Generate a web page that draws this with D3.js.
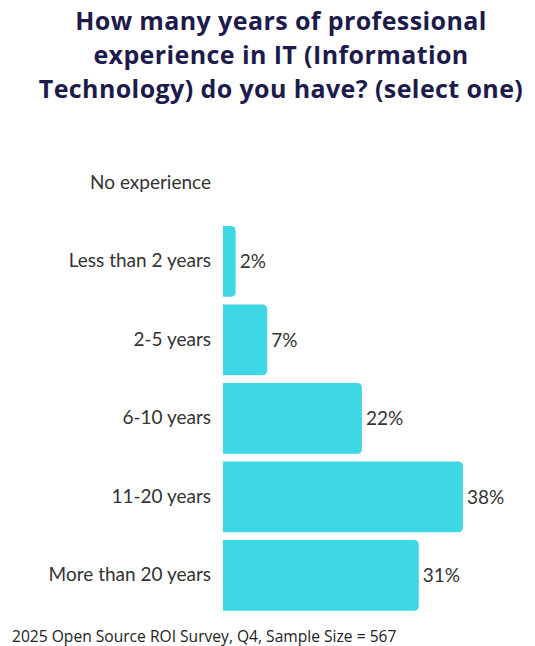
<!DOCTYPE html>
<html>
<head>
<meta charset="utf-8">
<script src="https://cdn.jsdelivr.net/npm/d3@7"></script>
<style>
  body { margin: 0; background: #fff; }
</style>
</head>
<body>
<svg id="chart"></svg>
<script>
// data
const categories = ["No experience", "Less than 2 years", "2-5 years", "6-10 years", "11-20 years", "More than 20 years"];
const values = [0, 2, 7, 22, 38, 31];
const titleLines = ["How many years of professional", "experience in IT (Information", "Technology) do you have? (select one)"];
const source = "2025 Open Source ROI Survey, Q4, Sample Size = 567";

const width = 535, height = 646;
const barColor = "#3dd8e3";

const svg = d3.select("#chart")
  .attr("width", width)
  .attr("height", height);

// title
svg.append("g")
  .selectAll("text")
  .data(titleLines)
  .enter()
  .append("text")
  .attr("x", 281)
  .attr("y", (d, i) => 30 + i * 34)
  .attr("text-anchor", "middle")
  .style("font-family", "'Open Sans', sans-serif")
  .style("font-weight", 700)
  .style("font-size", "25px")
  .style("letter-spacing", "0.4px")
  .style("fill", "#1d1b4c")
  .text(d => d);

const yScale = d3.scaleBand()
  .domain(categories)
  .range([143.6, 614.6])
  .paddingInner(0.1)
  .paddingOuter(0.05);

const xScale = d3.scaleLinear()
  .domain([0, 38])
  .range([223, 463]);

const rows = categories.map((c, i) => ({ cat: c, val: values[i] }));

// bars, rounded on the right side only
const r = 5;
svg.selectAll(".bar")
  .data(rows.filter(d => d.val > 0))
  .enter()
  .append("path")
  .attr("class", "bar")
  .attr("fill", barColor)
  .attr("d", d => {
    const x0 = xScale(0), x1 = xScale(d.val);
    const y0 = yScale(d.cat), y1 = y0 + yScale.bandwidth();
    const rr = Math.min(r, (x1 - x0) / 2);
    return `M${x0},${y0}H${x1 - rr}Q${x1},${y0} ${x1},${y0 + rr}V${y1 - rr}Q${x1},${y1} ${x1 - rr},${y1}H${x0}Z`;
  });

// category labels
const yAxis = d3.axisLeft(yScale).tickSize(0).tickPadding(0);
const axisG = svg.append("g")
  .attr("transform", "translate(211,0)")
  .call(yAxis);
axisG.select(".domain").remove();
axisG.selectAll("text")
  .style("font-family", "Lato, sans-serif")
  .style("font-size", "19px")
  .style("fill", "#333");

// value labels
svg.selectAll(".value")
  .data(rows.filter(d => d.val > 0))
  .enter()
  .append("text")
  .attr("class", "value")
  .attr("x", d => xScale(d.val) + 4)
  .attr("y", d => yScale(d.cat) + yScale.bandwidth() / 2)
  .attr("dy", "0.35em")
  .style("font-family", "Lato, sans-serif")
  .style("font-size", "19px")
  .style("fill", "#333")
  .text(d => d.val + "%");

// source note
svg.append("text")
  .attr("x", 12)
  .attr("y", 642)
  .style("font-family", "'Open Sans', sans-serif")
  .style("font-size", "15.6px")
  .style("fill", "#222")
  .text(source);
</script>
</body>
</html>
